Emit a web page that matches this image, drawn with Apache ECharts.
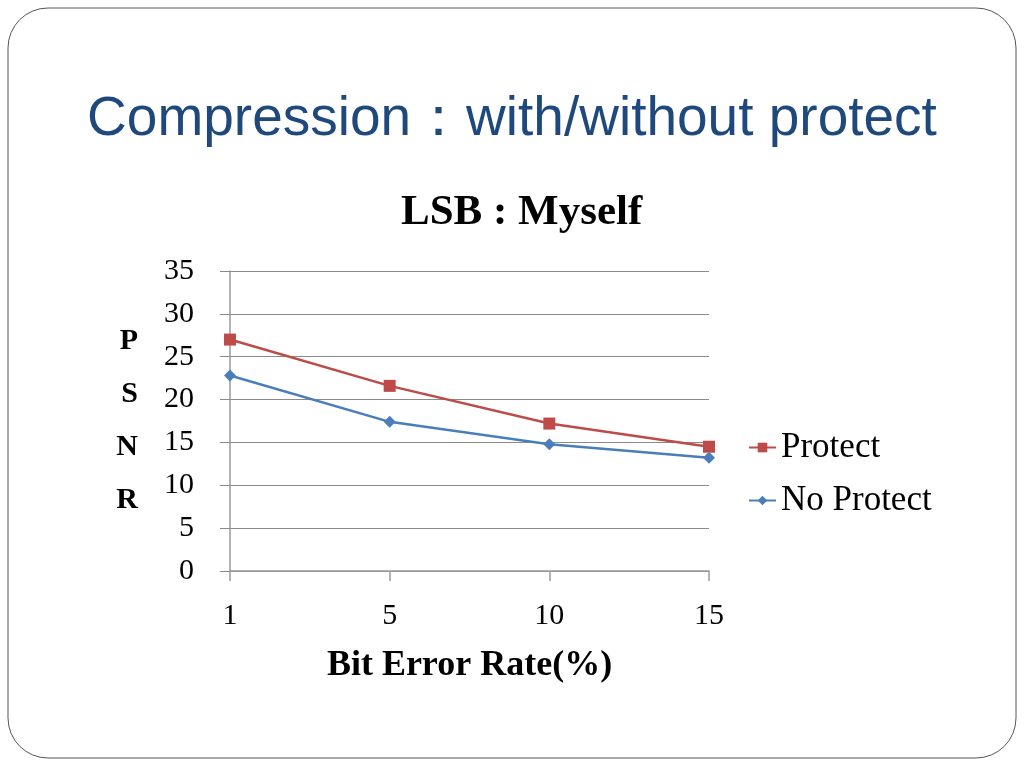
<!DOCTYPE html>
<html>
<head>
<meta charset="utf-8">
<script src="https://cdn.jsdelivr.net/npm/echarts@6/dist/echarts.min.js"></script>
<style>
html,body{margin:0;padding:0;background:#fff;}
#chart{width:1024px;height:768px;}
</style>
</head>
<body>
<div id="chart"></div>
<script>
const categories = ['1', '5', '10', '15'];
const protectValues = [27.0, 21.6, 17.2, 14.5];
const noProtectValues = [22.8, 17.4, 14.8, 13.2];
const seriesNames = ['Protect', 'No Protect'];
const yTicks = { min: 0, max: 35, interval: 5 };

const serif = '"Liberation Serif", "DejaVu Serif", serif';
const chart = echarts.init(document.getElementById('chart'));
chart.setOption({
  animation: false,
  backgroundColor: '#fff',
  graphic: [
    { type: 'rect', shape: { x: 8, y: 8, width: 1008, height: 750, r: 40 },
      style: { fill: 'none', stroke: '#555', lineWidth: 1 }, silent: true },
    { type: 'text', left: 'center', top: 92,
      style: { text: 'Compression：with/without protect', fill: '#1F497D',
        font: '55px "Liberation Sans", Arial, sans-serif' } }
  ],
  title: {
    text: 'LSB : Myself', left: 396, top: 186,
    textStyle: { fontFamily: serif, fontSize: 43, fontWeight: 'bold', color: '#000' }
  },
  legend: {
    orient: 'vertical', left: 743, top: 425, itemGap: 18,
    itemWidth: 27, itemHeight: 12,
    textStyle: { fontFamily: serif, fontSize: 35, color: '#000' },
    data: seriesNames
  },
  grid: { left: 230, right: 315, top: 271, bottom: 197 },
  xAxis: {
    type: 'category', data: categories, boundaryGap: false,
    name: 'Bit Error Rate(%)', nameLocation: 'middle', nameGap: 77,
    nameTextStyle: { fontFamily: serif, fontSize: 36, fontWeight: 'bold', color: '#000' },
    axisLine: { lineStyle: { color: '#9a9a9a', width: 1.5 } },
    axisTick: { show: true, length: 10, lineStyle: { color: '#9a9a9a', width: 1.5 } },
    axisLabel: { margin: 30, fontFamily: serif, fontSize: 30, color: '#000' }
  },
  yAxis: {
    type: 'value', min: yTicks.min, max: yTicks.max, interval: yTicks.interval,
    name: 'P\nS\nN\nR', nameLocation: 'middle', nameGap: 92, nameRotate: 0,
    nameTextStyle: { fontFamily: serif, fontSize: 30, fontWeight: 'bold', color: '#000',
      lineHeight: 53, padding: [25, 0, 0, 0] },
    axisLine: { show: true, lineStyle: { color: '#9a9a9a', width: 1.5 } },
    axisTick: { show: true, length: 10, lineStyle: { color: '#8a8a8a' } },
    axisLabel: { margin: 36, fontFamily: serif, fontSize: 30, color: '#000' },
    splitLine: { lineStyle: { color: '#8a8a8a', width: 1 } }
  },
  series: [
    { name: seriesNames[0], type: 'line', data: protectValues,
      symbol: 'rect', symbolSize: 12,
      lineStyle: { color: '#BE4B48', width: 2.5 }, itemStyle: { color: '#BE4B48' } },
    { name: seriesNames[1], type: 'line', data: noProtectValues,
      symbol: 'diamond', symbolSize: 12,
      lineStyle: { color: '#4A7EBB', width: 2.5 }, itemStyle: { color: '#4A7EBB' } }
  ]
});
</script>
</body>
</html>
